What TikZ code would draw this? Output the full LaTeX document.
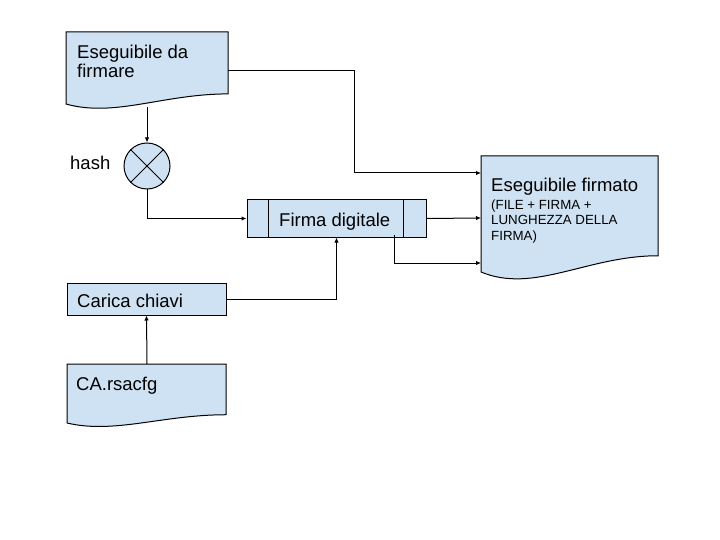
\documentclass[tikz,border=0pt]{standalone}
\usepackage{fontspec}
\setmainfont{Liberation Sans}
\usetikzlibrary{arrows.meta}
\definecolor{docblue}{HTML}{CFE2F3}
\newcommand\mydocshape[4]{% left, top, right, left-bottom
  \pgfmathsetmacro\dw{#3-#1}\pgfmathsetmacro\dh{#4-#2}
  \filldraw[shapestyle] (#1,#2) -- (#3,#2) -- (#3,{#4-0.14*\dh})
    .. controls ({#1+0.6*\dw},{#4-0.14*\dh}) and ({#1+0.3*\dw},{#4+0.19*\dh}) .. (#1,#4) -- cycle;}
\tikzset{
  shapestyle/.style={fill=docblue, draw=black, line width=1pt},
  boxstyle/.style={shapestyle, rectangle, inner sep=0pt},
  conn/.style={draw=black, line width=1pt, -{Latex[length=5pt,width=4.5pt]}},
  bigtxt/.style={anchor=base west, inner sep=0pt, font=\fontsize{18.5}{21}\selectfont},
  smalltxt/.style={anchor=base west, inner sep=0pt, font=\fontsize{13.3}{15.5}\selectfont},
}
\begin{document}
\begin{tikzpicture}[x=1pt,y=-1pt]
\useasboundingbox (0,0) rectangle (720,540);
\fill[white] (0,0) rectangle (720,540);

% document shapes
\mydocshape{66}{32}{228}{104}
\mydocshape{481}{156}{658}{272}
\mydocshape{67}{364}{226}{423}

\coordinate (d1bottom) at (147,107);
\coordinate (d1right) at (228,71);
\coordinate (d2in1) at (481,173);
\coordinate (d2in2) at (481,218);
\coordinate (d2in3) at (481,263);
\coordinate (d3top) at (147,364);

% hash circle
\node[shapestyle, circle, minimum size=46pt, inner sep=0pt] (hashc) at (147,166) {};
\draw[line width=1pt] (hashc.north west) -- (hashc.south east)
                      (hashc.north east) -- (hashc.south west);

% Firma digitale
\node[boxstyle, minimum width=179pt, minimum height=37pt] (firma) at (336.5,218.5) {};
\draw[line width=1pt] ([xshift=22pt]firma.north west) -- ([xshift=22pt]firma.south west)
                      ([xshift=-23pt]firma.north east) -- ([xshift=-23pt]firma.south east);

% Carica chiavi
\node[boxstyle, minimum width=159pt, minimum height=32pt] (carica) at (146.5,299) {};

% texts
\node[bigtxt] (t1a) at (77,58.5) {Eseguibile da};
\node[bigtxt] (t1b) at (77,78) {firmare};
\node[bigtxt] (th) at (70,169.5) {hash};
\node[bigtxt] (tf) at (279,226) {Firma digitale};
\node[bigtxt] (t2a) at (491,192) {Eseguibile firmato};
\node[smalltxt] (t2b) at (491,209.5) {(FILE + FIRMA +};
\node[smalltxt] (t2c) at (491,225) {LUNGHEZZA DELLA};
\node[smalltxt] (t2d) at (491,240.5) {FIRMA)};
\node[bigtxt] (tc) at (77,307) {Carica chiavi};
\node[bigtxt] (tca) at (76,390) {CA.rsacfg};

% connectors
\draw[conn] (d1bottom) -- (hashc.north);
\draw[conn] (hashc.south) |- (firma.west);
\draw[conn] (d1right) -| (354,173) -- (d2in1);
\draw[conn] (firma.east) -- (d2in2);
\draw[conn] ([xshift=-32pt,yshift=3pt]firma.south east) |- (d2in3);
\draw[conn] (carica.east) -| (firma.south);
\draw[conn] (d3top) -- (carica.south);
\end{tikzpicture}
\end{document}
